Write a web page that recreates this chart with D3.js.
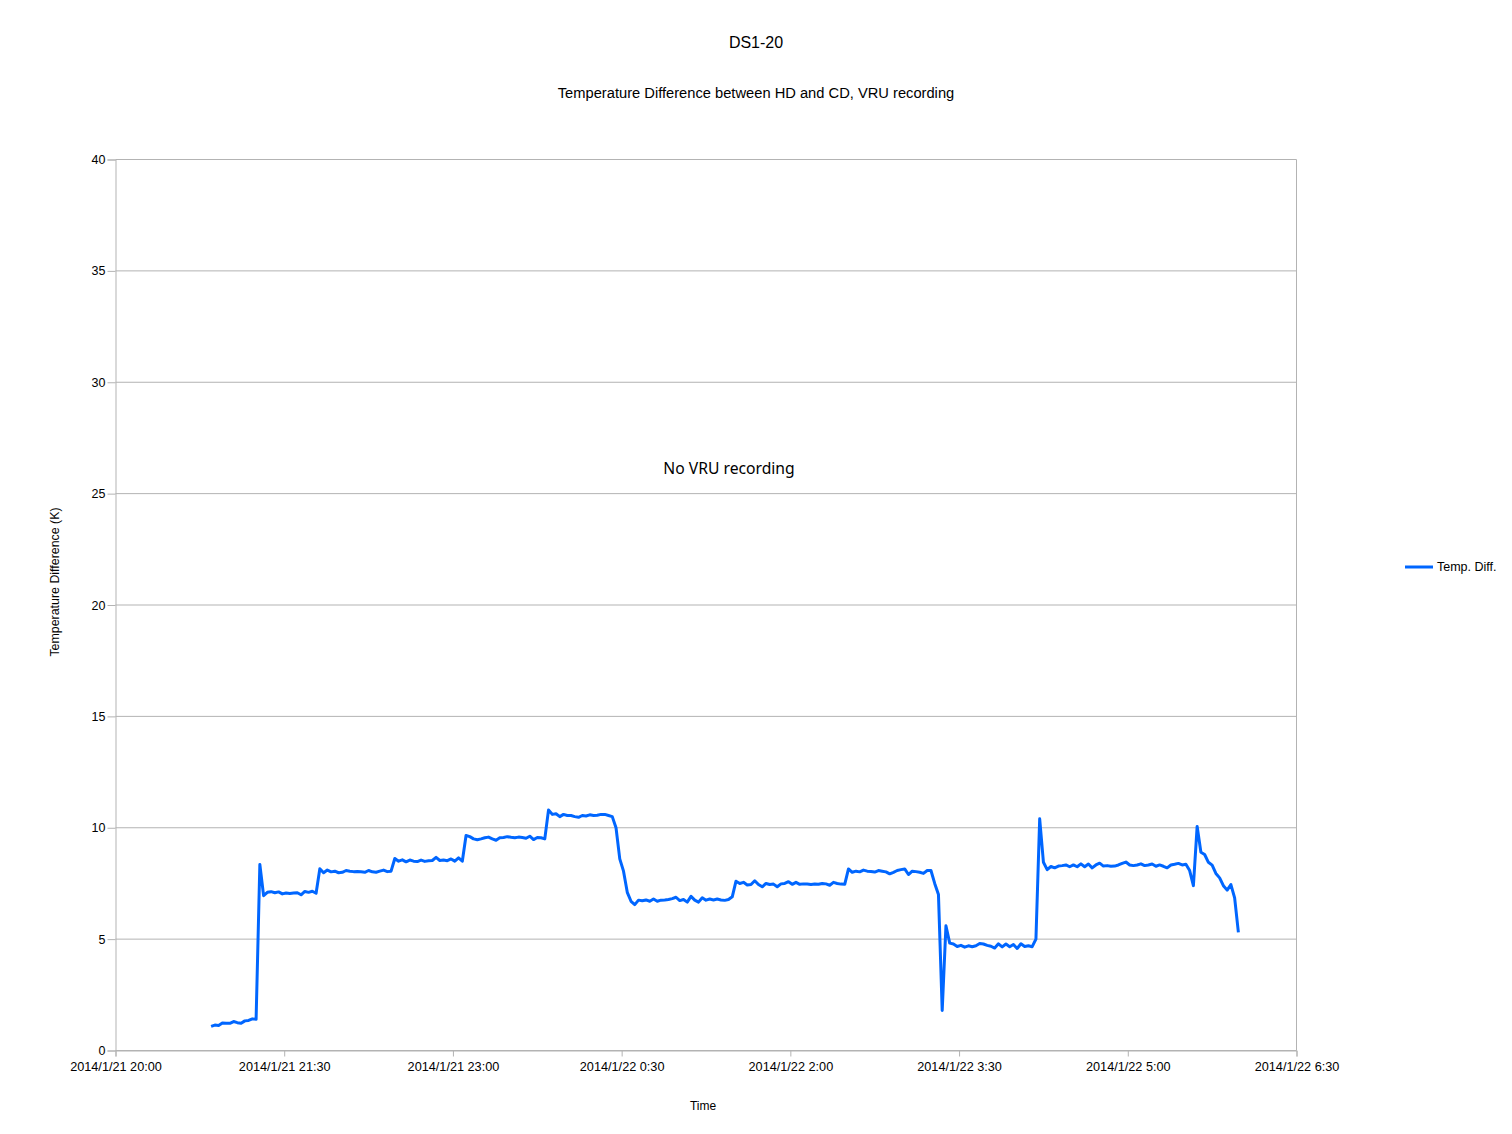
<!DOCTYPE html>
<html>
<head>
<meta charset="utf-8">
<script src="https://cdn.jsdelivr.net/npm/d3@7"></script>
<style>
  html, body { margin: 0; padding: 0; background: #fff; }
  svg { display: block; }
  text { font-family: "Liberation Sans", Arial, sans-serif; fill: #000; }
</style>
</head>
<body>
<svg id="chart" width="1512" height="1134"></svg>
<script>
// ---- Data ----
const chartTitle = "DS1-20";
const chartSubtitle = "Temperature Difference between HD and CD, VRU recording";
const annotation = "No VRU recording";
const seriesName = "Temp. Diff.";
const xAxisTitle = "Time";
const yAxisTitle = "Temperature Difference (K)";

// sampling: first sample 2014/1/21 20:51, one sample every 2 minutes
const sampleStart = [2014, 0, 21, 20, 51];
const sampleMinutes = 2;
const tempDiff = [
  1.08, 1.14, 1.12, 1.23, 1.22, 1.22, 1.30, 1.25, 1.22, 1.33, 1.35, 1.42, 1.40,
  8.35, 6.95, 7.10, 7.13, 7.08, 7.12, 7.03, 7.07, 7.05, 7.07, 7.08, 6.99, 7.14, 7.10, 7.15, 7.06,
  8.16, 7.98, 8.10, 8.02, 8.05, 7.98, 8.00, 8.08, 8.05, 8.03, 8.04, 8.02, 8.00, 8.08, 8.02, 8.00, 8.05, 8.10, 8.03, 8.05,
  8.62, 8.50, 8.56, 8.47, 8.55, 8.50, 8.48, 8.55, 8.49, 8.52, 8.53, 8.67, 8.53, 8.55, 8.52, 8.60, 8.50, 8.65, 8.50,
  9.65, 9.60, 9.50, 9.46, 9.50, 9.55, 9.58, 9.50, 9.44, 9.55, 9.56, 9.60, 9.57, 9.55, 9.58, 9.56, 9.53, 9.62, 9.47, 9.56, 9.55, 9.50,
  10.80, 10.60, 10.63, 10.50, 10.60, 10.55, 10.55, 10.50, 10.47, 10.55, 10.53, 10.58, 10.55, 10.56, 10.60, 10.60, 10.55, 10.50,
  10.00, 8.60, 8.05, 7.10, 6.70, 6.55,
  6.75, 6.72, 6.76, 6.70, 6.80, 6.70, 6.75, 6.76, 6.78, 6.82, 6.88, 6.73, 6.78, 6.66, 6.92, 6.75, 6.66, 6.86, 6.75, 6.80, 6.76, 6.80, 6.76, 6.74, 6.78, 6.90,
  7.60, 7.50, 7.55, 7.43, 7.45, 7.62, 7.45, 7.35, 7.50, 7.45, 7.47, 7.35, 7.48, 7.50, 7.58, 7.46, 7.55, 7.46, 7.48, 7.47, 7.45, 7.47, 7.46, 7.50, 7.48, 7.42, 7.55, 7.50, 7.47, 7.46,
  8.15, 8.00, 8.05, 8.02, 8.10, 8.05, 8.04, 8.01, 8.08, 8.05, 8.02, 7.93, 8.00, 8.08, 8.12, 8.15, 7.90, 8.05, 8.03, 8.00, 7.95, 8.08, 8.08,
  7.50, 7.00, 1.80, 5.60,
  4.82, 4.78, 4.67, 4.72, 4.64, 4.70, 4.66, 4.70, 4.80, 4.78, 4.72, 4.68, 4.60, 4.79, 4.65, 4.78, 4.66, 4.76, 4.58, 4.79, 4.67, 4.70, 4.66, 5.00,
  10.40, 8.45, 8.12, 8.26, 8.20, 8.28, 8.30, 8.33, 8.25, 8.33, 8.25, 8.38, 8.25, 8.37, 8.20, 8.33, 8.41, 8.28, 8.30, 8.27, 8.28, 8.33, 8.40, 8.46,
  8.33, 8.30, 8.33, 8.38, 8.30, 8.33, 8.37, 8.27, 8.33, 8.27, 8.20, 8.33, 8.36, 8.40, 8.33, 8.36, 8.08, 7.40,
  10.06, 8.90, 8.80, 8.45, 8.32, 7.95, 7.75, 7.40, 7.20, 7.45, 6.85, 5.30
];

const xDomain = [new Date(2014, 0, 21, 20, 0), new Date(2014, 0, 22, 6, 30)];
const xTickStepMinutes = 90;
const yTicks = [0, 5, 10, 15, 20, 25, 30, 35, 40];

// ---- Build records ----
const t0 = new Date(...sampleStart);
const data = tempDiff.map((v, i) => ({
  t: new Date(t0.getTime() + i * sampleMinutes * 60000),
  v
}));
const nXTicks = Math.round((xDomain[1] - xDomain[0]) / (xTickStepMinutes * 60000)) + 1;
const xTicks = d3.range(nXTicks).map(i => new Date(xDomain[0].getTime() + i * xTickStepMinutes * 60000));

// ---- Layout ----
const svg = d3.select("#chart");
const L = 115.5, R = 1296.5, T = 159.5, B = 1050.5;

const x = d3.scaleTime().domain(xDomain).range([L, R]);
const y = d3.scaleLinear().domain([0, 40]).range([B, T]);

const gridColor = "#b3b3b3";

// gridlines
svg.append("g")
  .selectAll("line")
  .data(yTicks)
  .join("line")
  .attr("x1", L).attr("x2", R)
  .attr("y1", d => y(d)).attr("y2", d => y(d))
  .attr("stroke", gridColor).attr("stroke-width", 1);

// right border
svg.append("line")
  .attr("x1", R).attr("x2", R).attr("y1", T).attr("y2", B)
  .attr("stroke", gridColor);

// y axis
const yAxis = svg.append("g")
  .attr("transform", `translate(${L},0)`)
  .call(d3.axisLeft(y).tickValues(yTicks).tickSize(8).tickPadding(2).tickFormat(d3.format("d")));
yAxis.select(".domain").attr("stroke", gridColor);
yAxis.selectAll(".tick line").attr("stroke", gridColor);
yAxis.selectAll(".tick text").style("font-size", "12.5px").style("font-family", "Liberation Sans, Arial, sans-serif").attr("fill", "#000");

// x axis
const fmt = d3.timeFormat("%Y/%-m/%-d %-H:%M");
const xAxis = svg.append("g")
  .attr("transform", `translate(0,${B})`)
  .call(d3.axisBottom(x).tickValues(xTicks).tickSize(6).tickPadding(5).tickFormat(fmt));
xAxis.select(".domain").attr("stroke", gridColor);
xAxis.selectAll(".tick line").attr("stroke", gridColor);
xAxis.selectAll(".tick text").style("font-size", "12.7px").style("font-family", "Liberation Sans, Arial, sans-serif").attr("fill", "#000");

// line
const line = d3.line().x(d => x(d.t)).y(d => y(d.v));
svg.append("path")
  .datum(data)
  .attr("fill", "none")
  .attr("stroke", "#0066ff")
  .attr("stroke-width", 3)
  .attr("stroke-linejoin", "round")
  .attr("stroke-linecap", "butt")
  .attr("d", line);

// titles
svg.append("text").attr("x", 756).attr("y", 48).attr("text-anchor", "middle")
  .style("font-size", "16px").text(chartTitle);
svg.append("text").attr("x", 756).attr("y", 98).attr("text-anchor", "middle")
  .style("font-size", "14.7px").text(chartSubtitle);

// annotation
svg.append("text").attr("x", 729).attr("y", 474).attr("text-anchor", "middle")
  .style("font-family", "'Noto Sans', 'DejaVu Sans', sans-serif")
  .style("font-size", "15.7px").text(annotation);

// axis titles
svg.append("text").attr("x", 703).attr("y", 1110).attr("text-anchor", "middle")
  .style("font-size", "12px").text(xAxisTitle);
svg.append("text")
  .attr("transform", `translate(59,582) rotate(-90)`)
  .attr("text-anchor", "middle")
  .style("font-size", "12.4px").text(yAxisTitle);

// legend
const lg = svg.append("g");
lg.append("line").attr("x1", 1405).attr("x2", 1433).attr("y1", 567).attr("y2", 567)
  .attr("stroke", "#0066ff").attr("stroke-width", 3);
lg.append("text").attr("x", 1437).attr("y", 571)
  .style("font-size", "12.5px").text(seriesName);
</script>
</body>
</html>
